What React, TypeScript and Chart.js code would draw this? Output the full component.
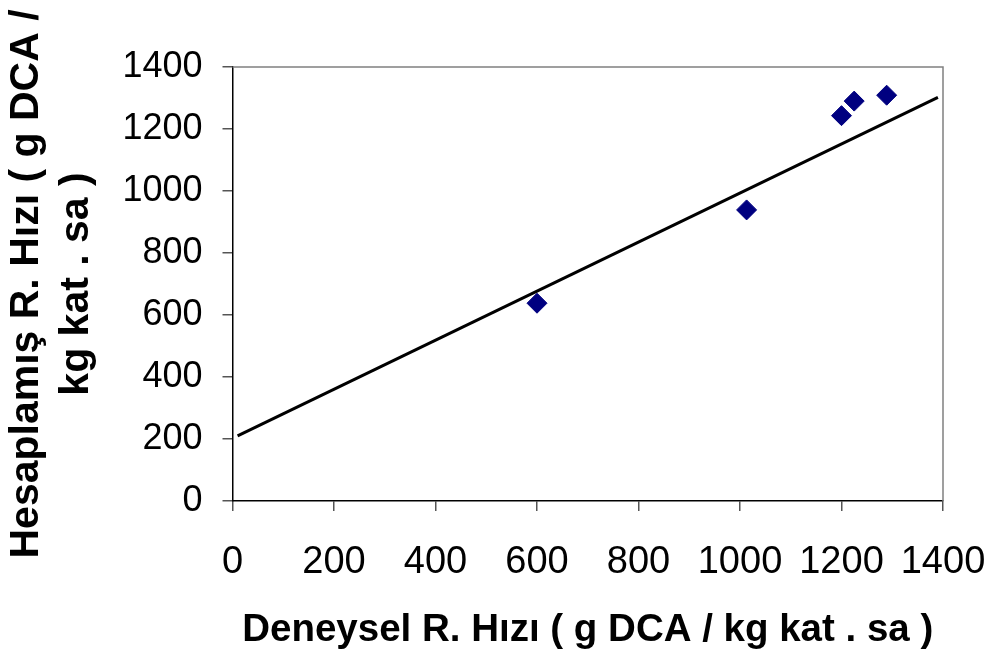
import React, { useEffect, useRef } from "react";
import { Chart, registerables } from "chart.js";

Chart.register(...registerables);

// Measured (experimental) vs. calculated rates
const measuredX = [600, 1013, 1200, 1225, 1289];
const computedY = [638, 939, 1243, 1290, 1309];

// Trend line end points
const fitX = [10, 1390];
const fitY = [210, 1302];

const xTitle = "Deneysel R. Hızı ( g DCA / kg kat . sa )";
const yTitle = ["Hesaplamış R. Hızı ( g DCA /", "kg kat . sa )"];

const FONT = '"Liberation Sans", Arial, sans-serif';

const frameLines = {
  id: "frameLines",
  afterDraw(chart: any) {
    const { ctx, chartArea } = chart;
    ctx.save();
    ctx.strokeStyle = "#808080";
    ctx.lineWidth = 1.5;
    ctx.beginPath();
    ctx.moveTo(chartArea.left, chartArea.top);
    ctx.lineTo(chartArea.right, chartArea.top);
    ctx.lineTo(chartArea.right, chartArea.bottom);
    ctx.stroke();
    ctx.restore();
  },
};

export default function App() {
  const ref = useRef<HTMLCanvasElement | null>(null);

  useEffect(() => {
    if (!ref.current) return;
    const chart = new Chart(ref.current, {
      type: "scatter",
      data: {
        datasets: [
          {
            label: "fit",
            data: fitX.map((x, i) => ({ x, y: fitY[i] })),
            showLine: true,
            borderColor: "#000000",
            borderWidth: 3,
            pointRadius: 0,
            fill: false,
            order: 2,
          },
          {
            label: "data",
            data: measuredX.map((x, i) => ({ x, y: computedY[i] })),
            pointStyle: "rectRot",
            pointRadius: 10,
            pointBackgroundColor: "#000080",
            pointBorderColor: "#000080",
            pointBorderWidth: 1,
            showLine: false,
            order: 1,
          },
        ],
      },
      options: {
        responsive: false,
        animation: false,
        layout: { padding: { left: 0, top: 67, right: 49, bottom: 0 } },
        plugins: {
          legend: { display: false },
          tooltip: { enabled: false },
        },
        scales: {
          x: {
            type: "linear",
            min: 0,
            max: 1400,
            afterFit: (s: any) => {
              s.height = 159;
              s.paddingLeft = 0;
              s.paddingRight = 0;
            },
            ticks: {
              stepSize: 200,
              color: "#000",
              padding: 29,
              maxRotation: 0,
              autoSkip: false,
              callback: (v: any) => String(v),
              font: { family: FONT, size: 38 },
            },
            grid: {
              drawOnChartArea: false,
              drawTicks: true,
              tickLength: 10,
              color: "#555",
              lineWidth: 1.5,
            },
            border: { display: true, color: "#000", width: 1.5 },
            title: {
              display: true,
              text: xTitle,
              color: "#000",
              padding: { top: 0, bottom: 7 },
              font: { family: FONT, size: 38.5, weight: "bold", lineHeight: 1.2 },
            },
          },
          y: {
            type: "linear",
            min: 0,
            max: 1400,
            afterFit: (s: any) => {
              s.width = 232.5;
              s.paddingTop = 0;
              s.paddingBottom = 0;
            },
            ticks: {
              stepSize: 200,
              color: "#000",
              padding: 20,
              autoSkip: false,
              callback: (v: any) => String(v),
              font: { family: FONT, size: 36 },
            },
            grid: {
              drawOnChartArea: false,
              drawTicks: true,
              tickLength: 10,
              color: "#555",
              lineWidth: 1.5,
            },
            border: { display: true, color: "#000", width: 1.5 },
            title: {
              display: true,
              text: yTitle,
              color: "#000",
              padding: { top: 2, bottom: 0 },
              font: { family: FONT, size: 41, weight: "bold", lineHeight: 1.22 },
            },
          },
        },
      },
      plugins: [frameLines],
    });
    return () => chart.destroy();
  }, []);

  return (
    <div style={{ position: "absolute", left: 0, top: 0, width: 992, height: 660, background: "#fff" }}>
      <canvas ref={ref} width={992} height={660} />
    </div>
  );
}
